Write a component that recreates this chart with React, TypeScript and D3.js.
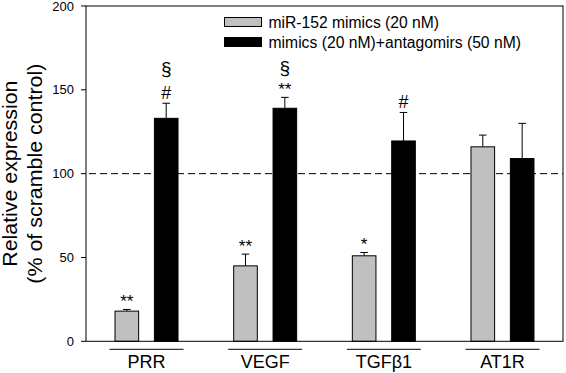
import React from "react";
import * as d3 from "d3";

const categories = ["PRR", "VEGF", "TGFβ1", "AT1R"];
const seriesNames = ["miR-152 mimics (20 nM)", "mimics (20 nM)+antagomirs (50 nM)"];
const seriesColors = ["#c0c0c0", "#000000"];
const mimicsValues = [18, 45, 51, 116];
const mimicsErrors = [1, 7, 2, 7];
const comboValues = [133, 139, 119.5, 109];
const comboErrors = [9, 6.5, 17, 21];
const mimicsMarks = [["**"], ["**"], ["*"], []];
const comboMarks = [["#", "§"], ["**", "§"], ["#"], []];
const yTicks = [0, 50, 100, 150, 200];
const referenceLine = 100;
const yTitleLines = ["Relative expression", "(% of scramble control)"];

const W = 566;
const H = 373;
const left = 86;
const right = 563;
const top = 6;
const bottom = 341.3;
const FONT = "'Liberation Sans', Arial, sans-serif";

export default function App() {
  const y = d3.scaleLinear().domain([0, 200]).range([bottom, top]);
  const x0 = d3.scaleBand<string>().domain(categories).range([left, right]).paddingOuter(0.01).paddingInner(0);
  const x1 = d3.scaleBand<number>().domain([0, 1]).range([0, 63]).paddingInner(0.4).paddingOuter(0);
  const values = [mimicsValues, comboValues];
  const errors = [mimicsErrors, comboErrors];
  const marks = [mimicsMarks, comboMarks];
  const center = (c: string) => (x0(c) as number) + x0.bandwidth() / 2;
  const titleLens = [186, 220];
  const legendLens = [170.5, 252.5];

  return (
    <svg width={W} height={H} style={{ position: "absolute", left: 0, top: 0, background: "#fff" }} fontFamily={FONT}>
      <rect x={0} y={0} width={W} height={H} fill="#fff" />
      <line x1={left} x2={right} y1={y(referenceLine)} y2={y(referenceLine)} stroke="#000" strokeWidth={1} strokeDasharray="7,4" strokeDashoffset={8} />
      {categories.map((c, i) => (
        <g key={c}>
          {values.map((vals, s) => {
            const bx = center(c) - 31.5 + (x1(s) as number);
            const bw = x1.bandwidth();
            const cx = bx + bw / 2;
            const v = vals[i];
            const e = errors[s][i];
            const errTop = y(v + e);
            const mk = marks[s][i];
            return (
              <g key={s}>
                <line x1={cx} x2={cx} y1={y(v)} y2={errTop} stroke="#000" strokeWidth={1} />
                <line x1={cx - 3.8} x2={cx + 3.8} y1={errTop} y2={errTop} stroke="#000" strokeWidth={1} />
                <rect x={bx} y={y(v)} width={bw} height={y(0) - y(v)} fill={seriesColors[s]} stroke="#000" strokeWidth={1} />
                {mk.map((m, k) => {
                  let base = errTop - 2;
                  let size = 17;
                  if (m === "#") { base = errTop - 4.5; size = 18; }
                  if (m === "§") { size = 19; base = errTop - (k === 1 && mk[0] === "#" ? 28.5 : 23); }
                  return (
                    <text key={k} x={cx} y={base} textAnchor="middle" fontSize={size} fill="#000">{m}</text>
                  );
                })}
              </g>
            );
          })}
          <line x1={center(c) - 37} x2={center(c) + 37} y1={349.3} y2={349.3} stroke="#000" strokeWidth={1} />
          <text x={center(c)} y={368} textAnchor="middle" fontSize={18} fill="#000">{c}</text>
        </g>
      ))}
      <rect x={left} y={top} width={right - left} height={bottom - top} fill="none" stroke="#000" strokeWidth={1} />
      {yTicks.map((t) => (
        <g key={t}>
          <line x1={left - 5} x2={left} y1={y(t)} y2={y(t)} stroke="#000" strokeWidth={1} />
          <text x={74} y={y(t) + 4.6} textAnchor="end" fontSize={13} fill="#000">{t}</text>
        </g>
      ))}
      <g transform={`translate(0, ${(top + bottom) / 2}) rotate(-90)`}>
        {yTitleLines.map((l, k) => (
          <text key={k} x={0} y={16.5 + k * 25.5} textAnchor="middle" fontSize={19.5} fill="#000" textLength={titleLens[k]} lengthAdjust="spacingAndGlyphs">{l}</text>
        ))}
      </g>
      {seriesNames.map((n, s) => (
        <g key={n}>
          <rect x={224.5} y={17.5 + s * 20} width={37} height={9} fill={seriesColors[s]} stroke="#000" strokeWidth={1} />
          <text x={268.5} y={27.5 + s * 20} fontSize={16} fill="#000" textLength={legendLens[s]} lengthAdjust="spacingAndGlyphs">{n}</text>
        </g>
      ))}
    </svg>
  );
}
